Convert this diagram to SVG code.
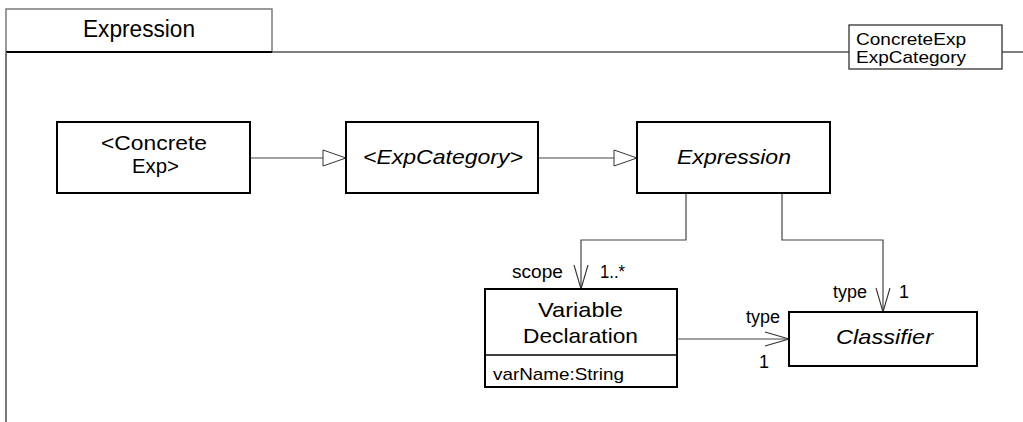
<svg xmlns="http://www.w3.org/2000/svg" width="1023" height="422" viewBox="0 0 1023 422" font-family="'Liberation Sans', Arial, Helvetica, sans-serif">
<style>
text{font-family:"Liberation Sans",Arial,Helvetica,sans-serif;fill:#000}
.box{fill:#fff;stroke:#000;stroke-width:2}
.frame{fill:none;stroke:#555;stroke-width:1.5}
.conn{fill:none;stroke:#444;stroke-width:1.2}
.lbl{font-size:21px}
.it{font-style:italic}
.sm{font-size:18px}
</style>
<defs>
<marker id="gen" markerWidth="26" markerHeight="18" refX="24" refY="9" orient="auto" markerUnits="userSpaceOnUse">
<path d="M1,1 L24,9 L1,17 Z" fill="#fff" stroke="#333" stroke-width="1"/>
</marker>
<marker id="open" markerWidth="28" markerHeight="20" refX="25" refY="10" orient="auto" markerUnits="userSpaceOnUse">
<path d="M1,3 L25,10 L1,17" fill="none" stroke="#333" stroke-width="1.1"/>
</marker>
</defs>

<g id="package">
<rect x="6" y="9" width="266" height="43" fill="#fff" stroke="#666" stroke-width="1.3"/>
<line x1="6" y1="52" x2="272" y2="52" stroke="#000" stroke-width="2"/>
<line x1="272" y1="52" x2="1023" y2="52" class="frame"/>
<line x1="6" y1="52" x2="6" y2="422" stroke="#777" stroke-width="2"/>
<text x="83" y="37" font-size="23" textLength="112" lengthAdjust="spacingAndGlyphs">Expression</text>
</g>

<g id="params">
<rect x="849" y="25" width="153" height="44" fill="#fff" stroke="#333" stroke-width="1.3"/>
<text x="856" y="45" font-size="17" textLength="110" lengthAdjust="spacingAndGlyphs">ConcreteExp</text>
<text x="856" y="63" font-size="17" textLength="110" lengthAdjust="spacingAndGlyphs">ExpCategory</text>
</g>

<g id="connectors">
<line x1="250" y1="158" x2="346" y2="158" class="conn" marker-end="url(#gen)"/>
<line x1="538" y1="158" x2="637" y2="158" class="conn" marker-end="url(#gen)"/>
<polyline points="686,193 686,240 581,240 581,289" class="conn" marker-end="url(#open)"/>
<polyline points="782,193 782,240 883,240 883,312" class="conn" marker-end="url(#open)"/>
<line x1="677" y1="339" x2="789" y2="339" class="conn" marker-end="url(#open)"/>
<text x="512" y="278" class="sm" textLength="51" lengthAdjust="spacingAndGlyphs">scope</text>
<text x="600" y="278" class="sm" textLength="25" lengthAdjust="spacingAndGlyphs">1..*</text>
<text x="833" y="298" class="sm" textLength="34" lengthAdjust="spacingAndGlyphs">type</text>
<text x="899" y="298" class="sm">1</text>
<text x="746" y="323" class="sm" textLength="34" lengthAdjust="spacingAndGlyphs">type</text>
<text x="759" y="368" class="sm">1</text>
</g>

<g id="concreteExp">
<rect x="57" y="122" width="193" height="71" class="box"/>
<text x="101" y="150" class="lbl" textLength="106" lengthAdjust="spacingAndGlyphs">&lt;Concrete</text>
<text x="132" y="173" class="lbl" textLength="47" lengthAdjust="spacingAndGlyphs">Exp&gt;</text>
</g>

<g id="expCategory">
<rect x="346" y="122" width="192" height="71" class="box"/>
<text x="363" y="164" class="lbl it" textLength="160" lengthAdjust="spacingAndGlyphs">&lt;ExpCategory&gt;</text>
</g>

<g id="expression">
<rect x="637" y="122" width="193" height="71" class="box"/>
<text x="677" y="164" class="lbl it" textLength="114" lengthAdjust="spacingAndGlyphs">Expression</text>
</g>

<g id="variableDeclaration">
<rect x="485" y="289" width="192" height="98" class="box"/>
<line x1="485" y1="355" x2="677" y2="355" stroke="#000" stroke-width="1.5"/>
<text x="538" y="317" class="lbl" textLength="85" lengthAdjust="spacingAndGlyphs">Variable</text>
<text x="523" y="343" class="lbl" textLength="115" lengthAdjust="spacingAndGlyphs">Declaration</text>
<text x="493" y="380" font-size="17" textLength="131" lengthAdjust="spacingAndGlyphs">varName:String</text>
</g>

<g id="classifier">
<rect x="789" y="312" width="188" height="54" class="box"/>
<text x="836" y="344" class="lbl it" textLength="97" lengthAdjust="spacingAndGlyphs">Classifier</text>
</g>
</svg>
